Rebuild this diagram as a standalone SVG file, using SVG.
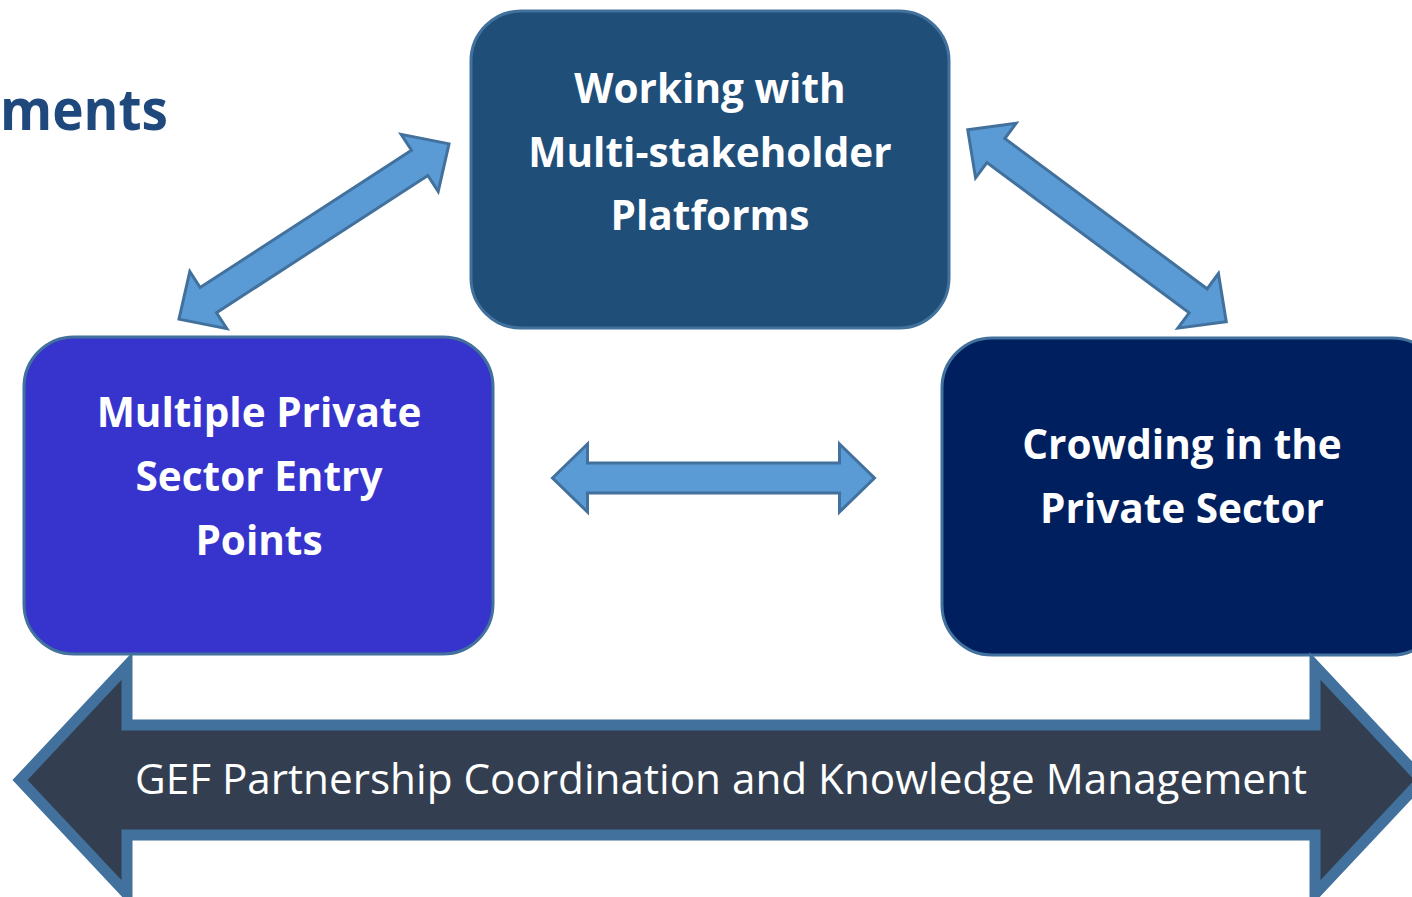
<svg xmlns="http://www.w3.org/2000/svg" width="1412" height="897" viewBox="0 0 1412 897">
<style>
.box{stroke:#41719C;stroke-width:3}
.lbl{font-family:"Open Sans","Noto Sans",sans-serif;font-weight:700;font-size:40.5px;fill:#FFFFFF;text-anchor:middle}
.arr{fill:#5B9BD5;stroke:#41719C;stroke-width:3;stroke-linejoin:miter}
.big{fill:#333F50;stroke:#41719C;stroke-width:11;stroke-linejoin:miter}
</style>
<defs>
<path id="dbl" d="M -161,0 L -126,-34 L -126,-15 L 126,-15 L 126,-34 L 161,0 L 126,34 L 126,15 L -126,15 L -126,34 Z"/>
</defs>
<text x="0" y="130" font-family="'Open Sans','Noto Sans',sans-serif" font-weight="700" font-size="58" fill="#1F497D" textLength="168" lengthAdjust="spacingAndGlyphs">ments</text>
<g id="connectors">
<use href="#dbl" class="arr" transform="translate(314,231.5) rotate(-33)"/>
<use href="#dbl" class="arr" transform="translate(1097,225.7) rotate(36.6)"/>
<use href="#dbl" class="arr" transform="translate(713.5,478)"/>
</g>
<g id="node-top">
<rect class="box" x="471" y="11" width="478" height="317" rx="50" fill="#1F4E79"/>
<text class="lbl" x="710" y="103">Working with</text>
<text class="lbl" x="710" y="167">Multi-stakeholder</text>
<text class="lbl" x="710" y="230">Platforms</text>
</g>
<g id="node-left">
<rect class="box" x="24" y="337" width="469" height="317" rx="50" fill="#3634CC"/>
<text class="lbl" x="259" y="427">Multiple Private</text>
<text class="lbl" x="259" y="491">Sector Entry</text>
<text class="lbl" x="259" y="555">Points</text>
</g>
<g id="node-right">
<rect class="box" x="942" y="338" width="500" height="317" rx="50" fill="#001F5F"/>
<text class="lbl" x="1182" y="459">Crowding in the</text>
<text class="lbl" x="1182" y="523">Private Sector</text>
</g>
<g id="node-bottom">
<path class="big" d="M 20,780 L 127,666 L 127,725 L 1315,725 L 1315,666 L 1422,780 L 1315,894 L 1315,835 L 127,835 L 127,894 Z"/>
<text x="721" y="794" font-family="'Open Sans','Noto Sans',sans-serif" font-size="42" fill="#FFFFFF" text-anchor="middle" textLength="1172" lengthAdjust="spacingAndGlyphs">GEF Partnership Coordination and Knowledge Management</text>
</g>
</svg>
